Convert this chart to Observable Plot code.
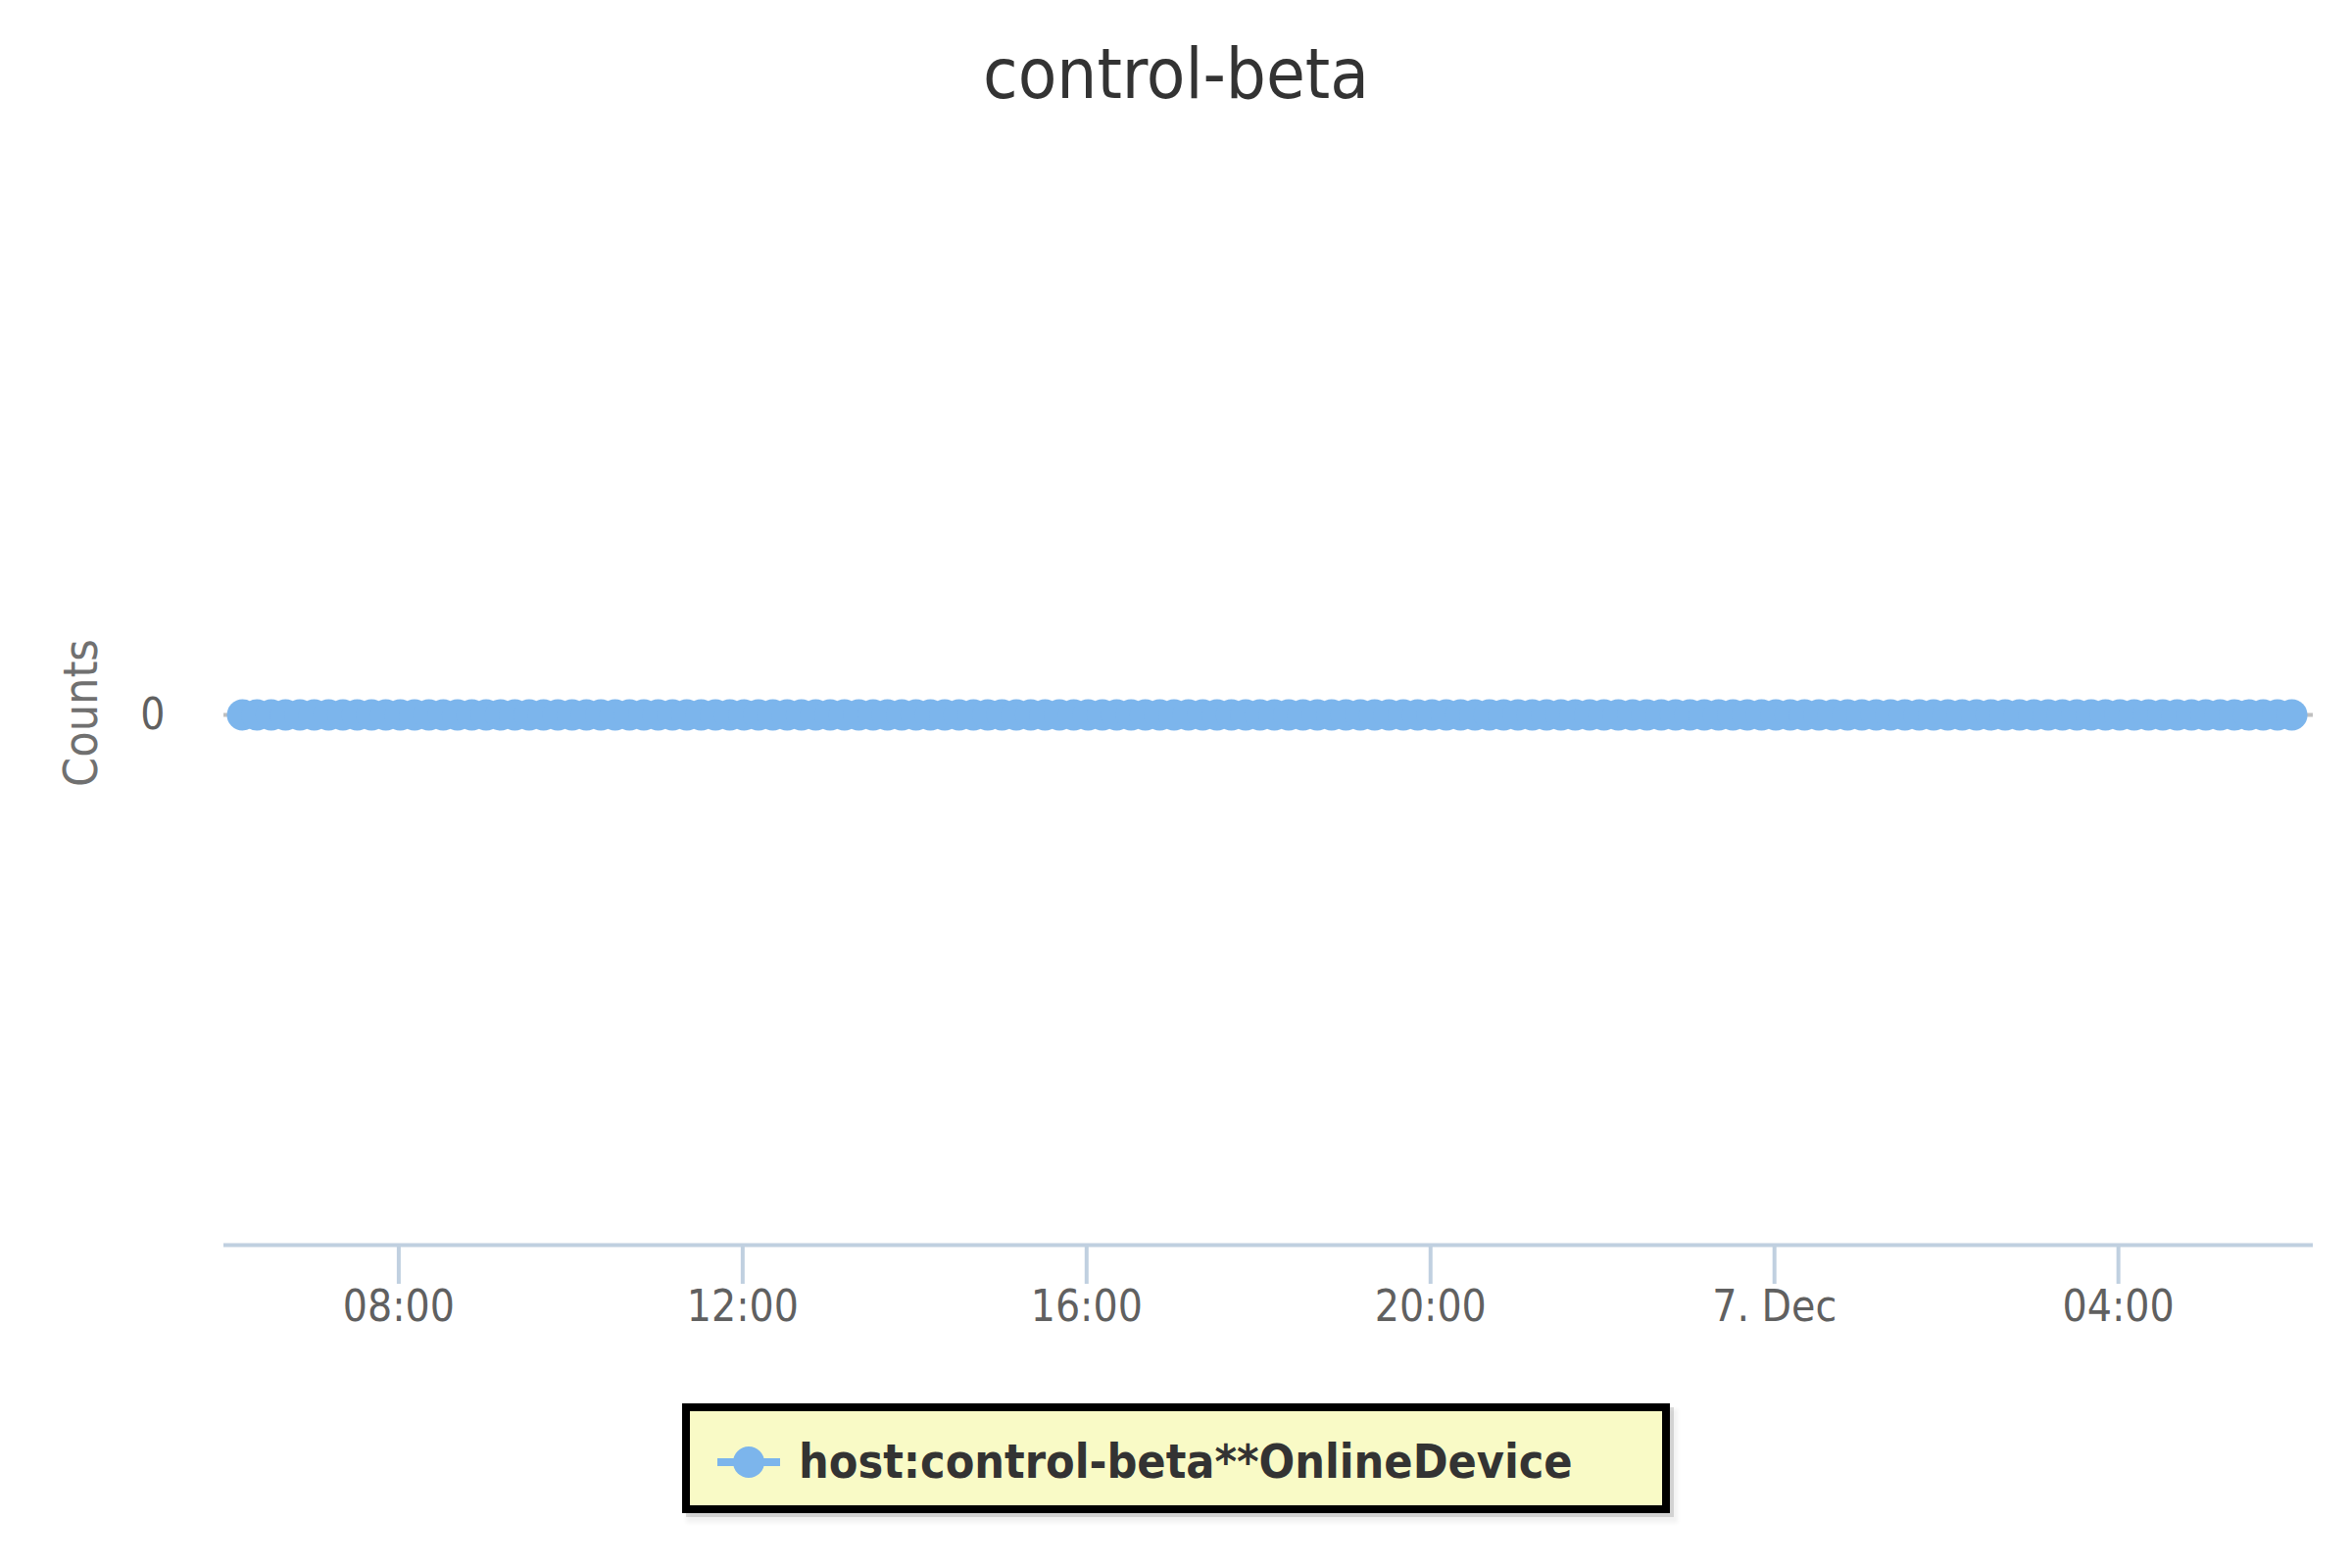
<!DOCTYPE html>
<html>
<head>
<meta charset="utf-8">
<script src="https://cdn.jsdelivr.net/npm/d3@7"></script>
<script src="https://cdn.jsdelivr.net/npm/@observablehq/plot@0.6"></script>
<style>
html, body { margin: 0; padding: 0; background: #ffffff; }
#wrap { position: relative; width: 2400px; height: 1600px; overflow: hidden; background: #ffffff;
  font-family: "DejaVu Sans Condensed", "DejaVu Sans", sans-serif; font-stretch: condensed; }
#chart { position: absolute; left: 0; top: 120px; }
#title { position: absolute; left: 0; top: 39px; width: 2400px; text-align: center;
  font-size: 72px; line-height: 72px; color: #333333; }
#legend { position: absolute; left: 696px; top: 1432px; width: 1008px; height: 112px; box-sizing: border-box;
  border: 8px solid #000000; background: #F9FAC6;
  box-shadow: 4px 4px 0 rgba(0,0,0,0.13), 6px 8px 4px 2px rgba(0,0,0,0.05); }
#legend .ln { position: absolute; left: 28px; top: 48px; width: 64px; height: 8px; background: #7cb5ec; }
#legend .dt { position: absolute; left: 44px; top: 36px; width: 32px; height: 32px; border-radius: 50%; background: #7cb5ec; }
#legend .lt { position: absolute; left: 111px; top: 27px; font-size: 48px; line-height: 48px; font-weight: bold;
  color: #333333; white-space: nowrap; }
</style>
</head>
<body>
<div id="wrap">
  <div id="chart"></div>
  <div id="title"></div>
  <div id="legend"><span class="ln"></span><span class="dt"></span><span class="lt"></span></div>
</div>
<script>
// ---- chart text ----
const chartTitle = "control-beta";
const yAxisTitle = "Counts";
const seriesName = "host:control-beta**OnlineDevice";

// ---- sample times (UTC), 6 Dec and 7 Dec ----
const day1 = "2016-12-06";
const day1Times = [
  "06:11","06:21","06:31","06:41","06:51",
  "07:01","07:11","07:21","07:31","07:41","07:51",
  "08:01","08:11","08:21","08:31","08:41","08:51",
  "09:01","09:11","09:21","09:31","09:41","09:51",
  "10:01","10:11","10:21","10:31","10:41","10:51",
  "11:01","11:11","11:21","11:31","11:41","11:51",
  "12:01","12:11","12:21","12:31","12:41","12:51",
  "13:01","13:11","13:21","13:31","13:41","13:51",
  "14:01","14:11","14:21","14:31","14:41","14:51",
  "15:01","15:11","15:21","15:31","15:41","15:51",
  "16:01","16:11","16:21","16:31","16:41","16:51",
  "17:01","17:11","17:21","17:31","17:41","17:51",
  "18:01","18:11","18:21","18:31","18:41","18:51",
  "19:01","19:11","19:21","19:31","19:41","19:51",
  "20:01","20:11","20:21","20:31","20:41","20:51",
  "21:01","21:11","21:21","21:31","21:41","21:51",
  "22:01","22:11","22:21","22:31","22:41","22:51",
  "23:01","23:11","23:21","23:31","23:41","23:51"
];
const day2 = "2016-12-07";
const day2Times = [
  "00:01","00:11","00:21","00:31","00:41","00:51",
  "01:01","01:11","01:21","01:31","01:41","01:51",
  "02:01","02:11","02:21","02:31","02:41","02:51",
  "03:01","03:11","03:21","03:31","03:41","03:51",
  "04:01","04:11","04:21","04:31","04:41","04:51",
  "05:01","05:11","05:21","05:31","05:41","05:51",
  "06:01"
];

// ---- series values (OnlineDevice counts) ----
const onlineDevice = [
  0,0,0,0,0,0,0,0,0,0,0,0,
  0,0,0,0,0,0,0,0,0,0,0,0,
  0,0,0,0,0,0,0,0,0,0,0,0,
  0,0,0,0,0,0,0,0,0,0,0,0,
  0,0,0,0,0,0,0,0,0,0,0,0,
  0,0,0,0,0,0,0,0,0,0,0,0,
  0,0,0,0,0,0,0,0,0,0,0,0,
  0,0,0,0,0,0,0,0,0,0,0,0,
  0,0,0,0,0,0,0,0,0,0,0,0,
  0,0,0,0,0,0,0,0,0,0,0,0,
  0,0,0,0,0,0,0,0,0,0,0,0,
  0,0,0,0,0,0,0,0,0,0,0,0
];

// ---- axis ticks ----
const xTickTimes = ["2016-12-06T08:00Z","2016-12-06T12:00Z","2016-12-06T16:00Z","2016-12-06T20:00Z","2016-12-07T00:00Z","2016-12-07T04:00Z"];
const xTickLabels = ["08:00","12:00","16:00","20:00","7. Dec","04:00"];
const xDomain = ["2016-12-06T05:58Z","2016-12-07T06:16Z"];
const yTicks = [0];
const yTickLabels = ["0"];
const yDomain = [-1, 1];

// ---- build table ----
const allTimes = [
  ...day1Times.map(t => new Date(`${day1}T${t}Z`)),
  ...day2Times.map(t => new Date(`${day2}T${t}Z`))
];
const data = allTimes.map((t, i) => ({time: t, value: onlineDevice[i]}));
const tickDates = xTickTimes.map(s => new Date(s));
const tickLabelMap = new Map(tickDates.map((d, i) => [+d, xTickLabels[i]]));
const yLabelMap = new Map(yTicks.map((v, i) => [v, yTickLabels[i]]));

const font = '"DejaVu Sans Condensed", "DejaVu Sans", sans-serif';

const chart = Plot.plot({
  width: 2400,
  height: 1280,
  marginTop: 68,
  marginBottom: 130,
  marginLeft: 228,
  marginRight: 40,
  style: {fontFamily: font, fontStretch: "condensed", background: "transparent", overflow: "visible"},
  x: {type: "utc", domain: xDomain.map(s => new Date(s))},
  y: {domain: yDomain},
  marks: [
    Plot.ruleY(yTicks, {stroke: "#C0C0C0", strokeWidth: 4}),
    Plot.ruleY([yDomain[0]], {stroke: "#C0D0E0", strokeWidth: 4}),
    Plot.axisX({
      ticks: tickDates,
      tickFormat: d => tickLabelMap.get(+d),
      tickSize: 40,
      tickPadding: 6,
      stroke: "#C0D0E0",
      strokeWidth: 4,
      strokeOpacity: 1,
      fill: "#606060",
      fontSize: 44,
      label: null
    }),
    Plot.axisY({
      ticks: yTicks,
      tickFormat: d => yLabelMap.get(d),
      tickSize: 0,
      tickPadding: 60,
      fill: "#606060",
      fontSize: 44,
      label: null
    }),
    Plot.line(data, {x: "time", y: "value", stroke: "#7cb5ec", strokeWidth: 8}),
    Plot.dot(data, {x: "time", y: "value", r: 16, fill: "#7cb5ec", stroke: "none"}),
    Plot.text([yAxisTitle], {frameAnchor: "left", dx: -145, dy: -2, rotate: -90, textAnchor: "middle", fontSize: 48, fill: "#707070", lineAnchor: "middle"})
  ]
});

document.getElementById("chart").appendChild(chart);
document.getElementById("title").textContent = chartTitle;
document.querySelector("#legend .lt").textContent = seriesName;
</script>
</body>
</html>
